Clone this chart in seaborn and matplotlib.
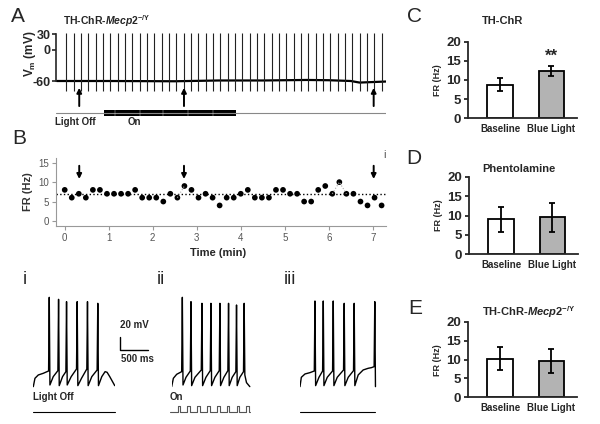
import matplotlib
matplotlib.use("Agg")
import matplotlib.pyplot as plt
import seaborn as sns

# ==============================
# Data
# ==============================

# Panel A: long recording, spike times (min) and slow baseline (min, mV)
spike_times = [0.03, 0.20, 0.36, 0.53, 0.70, 0.86, 1.03, 1.20, 1.36, 1.53, 1.70,
               1.86, 2.03, 2.20, 2.36, 2.53, 2.70, 2.86, 3.03, 3.20, 3.36, 3.53,
               3.70, 3.86, 4.03, 4.20, 4.36, 4.53, 4.70, 4.86, 5.03, 5.20, 5.36,
               5.53, 5.70, 5.86, 6.03, 6.20, 6.36, 6.53, 6.70, 6.86, 7.03, 7.20]
spike_top = 32
spike_bottom = -80
base_t = [-0.18, 1.0, 2.5, 3.5, 4.5, 5.5, 6.0, 6.5, 6.7, 7.0, 7.3]
base_v = [-60, -60, -60.5, -59, -59, -58, -58.5, -60, -63, -62, -61]
arrow_times = [0.33, 2.71, 7.02]
light_on = [0.9, 3.9]
light_marks = [1.15, 1.71, 2.24, 2.81, 3.37]

# Panel B: firing rate per bin
fr_time = [0.00, 0.16, 0.32, 0.48, 0.64, 0.80, 0.96, 1.12, 1.28, 1.44, 1.60, 1.76,
           1.92, 2.08, 2.24, 2.40, 2.56, 2.72, 2.88, 3.04, 3.20, 3.36, 3.52, 3.68,
           3.84, 4.00, 4.16, 4.32, 4.48, 4.64, 4.80, 4.96, 5.12, 5.28, 5.44, 5.60,
           5.76, 5.92, 6.08, 6.24, 6.40, 6.56, 6.72, 6.88, 7.04, 7.20]
fr_hz = [8, 6, 7, 6, 8, 8, 7, 7, 7, 7, 8, 6, 6, 6, 5, 7, 6, 9, 8, 6, 7, 6, 4,
         6, 6, 7, 8, 6, 6, 6, 8, 8, 7, 7, 5, 5, 8, 9, 7, 10, 7, 7, 5, 4, 6, 4]
fr_mean = 7.0
grey_links = [[16, 17], [38, 39, 40]]

# Panels C-E: mean +/- SEM
bar_labels = ['Baseline', 'Blue Light']
c_mean = [8.8, 12.3]
c_err = [1.8, 1.35]
d_mean = [9.0, 9.5]
d_err = [3.15, 3.75]
e_mean = [10.3, 9.6]
e_err = [2.95, 3.1]

# Bottom row example traces (ms, mV)
ti_ms = [0, 30, 90, 180, 276, 288, 300, 360, 444, 456, 468, 528, 588, 600, 612, 684,
         780, 792, 804, 870, 966, 978, 990, 1056, 1152, 1164, 1176, 1236, 1296, 1332,
         1380, 1470]
ti_mv = [-80, -67.5, -62.5, -60, -56.5, 54, -77.5, -65, -56, 51, -78.5, -65, -57.5,
         47.5, -77.5, -65, -53.5, 47.5, -78.5, -67.5, -53.5, 47.5, -78.5, -65, -55,
         45, -78.5, -65, -57.5, -58.5, -65, -78.5]
tii_ms = [0, 30, 90, 180, 192, 204, 258, 336, 348, 360, 420, 534, 546, 558, 618, 696,
          708, 720, 780, 858, 870, 882, 942, 1014, 1026, 1038, 1092, 1158, 1170, 1182,
          1230, 1296, 1308, 1320, 1350, 1410]
tii_mv = [-80, -67.5, -61.5, -57.5, 54, -77.5, -66, -56.5, 47.5, -78.5, -66, -55, 45,
          -78.5, -66, -56, 45, -78.5, -66, -56, 45, -78.5, -66, -56, 45, -78.5, -66,
          -57.5, 42.5, -78.5, -66, -57.5, 45, -62.5, -74, -80]
tiii_ms = [0, 24, 90, 180, 258, 270, 282, 342, 408, 420, 432, 492, 588, 600, 612, 672,
           786, 798, 810, 870, 966, 978, 990, 1050, 1140, 1230, 1290, 1338, 1350, 1362]
tiii_mv = [-80, -66, -61, -59, -56.5, 48.5, -78.5, -66, -56.5, 48.5, -78.5, -66, -56.5,
           48.5, -78.5, -66, -55, 45, -78.5, -66, -56, 45, -78.5, -62.5, -55, -52.5,
           -51.5, -50, 47.5, -80]
stim_spans = [[0, 1470], [-30, 1410], [0, 1362]]
pulse_starts = [108, 282, 462, 636, 816, 990, 1170, 1338]
pulse_width = 50
scale_mv = 20
scale_ms = 500

# ==============================
# Style
# ==============================
sns.set_style("ticks")
plt.rcParams['font.family'] = ['Liberation Sans', 'DejaVu Sans']
plt.rcParams['axes.unicode_minus'] = False
plt.rcParams['mathtext.fontset'] = 'custom'
plt.rcParams['mathtext.rm'] = 'Liberation Sans:bold'
plt.rcParams['mathtext.it'] = 'Liberation Sans:italic:bold'
plt.rcParams['mathtext.bf'] = 'Liberation Sans:bold'

W, H = 600, 424
fig = plt.figure(figsize=(6, 4.24), dpi=100)


def box(x0, y0, x1, y1):
    return [x0 / W, 1 - y1 / H, (x1 - x0) / W, (y1 - y0) / H]


def ftext(x, y, s, **kw):
    kw.setdefault('ha', 'center')
    kw.setdefault('va', 'center')
    fig.text(x / W, 1 - y / H, s, **kw)


# =====================================
# Panel A
# =====================================
axA = fig.add_axes(box(56, 28, 386, 108))
sns.lineplot(x=base_t, y=base_v, color='black', lw=1.6, ax=axA)
axA.vlines(spike_times, spike_bottom, spike_top, color='#222222', lw=0.8)
axA.set_xlim(-0.198, 7.30)
axA.set_ylim(-111.7, 41.5)
for s in ['top', 'right', 'bottom']:
    axA.spines[s].set_visible(False)
axA.spines['left'].set_bounds(-60, 30)
axA.spines['left'].set_linewidth(1.2)
axA.set_xticks([])
axA.set_yticks([30, 0, -60])
axA.tick_params(axis='y', length=3, width=1.2, pad=1, labelsize=9)
for lab in axA.get_yticklabels():
    lab.set_fontweight('bold')
axA.set_ylabel(r'V$_{\mathrm{m}}$ (mV)', fontsize=8.5, fontweight='bold')
axA.yaxis.set_label_coords(-0.055, 0.68)
for t in arrow_times:
    axA.annotate('', xy=(t, -73), xytext=(t, -108),
                 arrowprops=dict(arrowstyle='-|>', color='black', lw=1.4,
                                 mutation_scale=7, shrinkA=0, shrinkB=0))

# light stimulus bar
axL = fig.add_axes(box(56, 106, 386, 120))
axL.plot([-0.2, 7.3], [0, 0], color='#888888', lw=0.8)
axL.fill_between(light_on, -0.36, 0.36, color='black', lw=0)
axL.vlines(light_marks, -0.36, 0.36, color='#dddddd', lw=0.3)
axL.set_xlim(-0.198, 7.30)
axL.set_ylim(-1, 1)
axL.axis('off')

ftext(18, 17, 'A', fontsize=15)
ftext(63, 21, r'TH-ChR-$\mathit{Mecp2}^{\mathrm{-/Y}}$', fontsize=7.5,
      fontweight='bold', ha='left')
ftext(55, 122, 'Light Off', fontsize=7, fontweight='bold', ha='left')
ftext(128, 122, 'On', fontsize=7, fontweight='bold', ha='left')

# =====================================
# Panel B
# =====================================
axB = fig.add_axes(box(56, 158, 386, 226))
axB.axhline(fr_mean, color='black', ls=':', lw=1.0)
for link in grey_links:
    axB.plot([fr_time[i] for i in link], [fr_hz[i] for i in link],
             color='#aaaaaa', ls=':', lw=0.8)
sns.scatterplot(x=fr_time, y=fr_hz, color='black', s=17, edgecolor='none', ax=axB)
for t in arrow_times:
    axB.annotate('', xy=(t, 10.8), xytext=(t, 14.2),
                 arrowprops=dict(arrowstyle='-|>', color='black', lw=1.4,
                                 mutation_scale=7, shrinkA=0, shrinkB=0))
axB.set_xlim(-0.198, 7.30)
axB.set_ylim(-1.29, 16.2)
axB.set_xticks(range(8))
axB.set_yticks([0, 5, 10, 15])
for s in ['top', 'right']:
    axB.spines[s].set_visible(False)
for s in ['left', 'bottom']:
    axB.spines[s].set_color('#999999')
    axB.spines[s].set_linewidth(0.8)
axB.tick_params(length=3, width=0.8, color='#999999', labelcolor='#555555',
                labelsize=7, pad=2)
axB.set_ylabel('FR (Hz)', fontsize=8, fontweight='bold', color='#333333', labelpad=4)
ftext(19, 138, 'B', fontsize=15)
ftext(384, 155, 'i', fontsize=8, color='#555555')
ftext(218, 253, 'Time (min)', fontsize=8, fontweight='bold')

# =====================================
# Panels C, D, E
# =====================================
bar_panels = [
    ('C', 'TH-ChR', c_mean, c_err, (468, 41.7, 577, 118.3), (415, 17), 21, True),
    ('D', 'Phentolamine', d_mean, d_err, (469, 176.7, 578, 254.3), (414, 159), 169, False),
    ('E', r'TH-ChR-$\mathit{Mecp2}^{\mathrm{-/Y}}$', e_mean, e_err,
     (468, 322, 577, 397.3), (415, 309), 312, False),
]
for letter, title, means, errs, pos, lpos, ty, star in bar_panels:
    ax = fig.add_axes(box(*pos))
    sns.barplot(x=bar_labels, y=means, hue=bar_labels, palette=['white', '#b3b3b3'],
                legend=False, width=0.5, edgecolor='black', linewidth=1.3, ax=ax)
    ax.errorbar([0, 1], means, yerr=errs, fmt='none', ecolor='black',
                elinewidth=1.3, capsize=2.5, capthick=1.3)
    ax.set_xlim(-0.63, 1.5)
    ax.set_ylim(0, 20)
    ax.set_yticks([0, 5, 10, 15, 20])
    for s in ['top', 'right']:
        ax.spines[s].set_visible(False)
    for s in ['left', 'bottom']:
        ax.spines[s].set_linewidth(1.3)
    ax.tick_params(axis='y', length=3, width=1.3, labelsize=9.5, pad=2)
    ax.tick_params(axis='x', length=0, labelsize=7, pad=4)
    for lab in ax.get_yticklabels() + ax.get_xticklabels():
        lab.set_fontweight('bold')
    ax.set_ylabel('FR (Hz)', fontsize=6.5, fontweight='bold', labelpad=3)
    if star:
        ax.text(1, 14.3, '**', ha='center', va='bottom', fontsize=12, fontweight='bold')
    ftext(lpos[0], lpos[1], letter, fontsize=15)
    ftext(482, ty, title, fontsize=8, fontweight='bold', ha='left')

# =====================================
# Bottom row example traces
# =====================================
traces = [(ti_ms, ti_mv, 33.3), (tii_ms, tii_mv, 171.7), (tiii_ms, tiii_mv, 300)]
trace_axes = []
for k, (tms, tmv, x0) in enumerate(traces):
    ax = fig.add_axes(box(x0, 295, x0 + 82, 388.3))
    sns.lineplot(x=tms, y=tmv, sort=False, estimator=None, color='black', lw=1.0, ax=ax)
    ax.set_xlim(0, 1480)
    ax.set_ylim(-82.5, 57.5)
    ax.axis('off')
    trace_axes.append(ax)

    axs = fig.add_axes(box(x0, 402, x0 + 82, 414))
    span = stim_spans[k]
    if k == 1:
        px = [span[0]]
        py = [0]
        for p in pulse_starts:
            px += [p, p, p + pulse_width, p + pulse_width]
            py += [0, 1, 1, 0]
        px.append(span[1])
        py.append(0)
        axs.plot(px, py, color='#555555', lw=0.8, clip_on=False)
    else:
        axs.plot(span, [0, 0], color='black', lw=0.8, clip_on=False)
    axs.set_xlim(0, 1480)
    axs.set_ylim(-0.38, 1.62)
    axs.axis('off')

# scale bar next to trace i
ax = trace_axes[0]
sx, sy = 1565, -25
ax.plot([sx, sx, sx + scale_ms], [sy + scale_mv, sy, sy], color='black', lw=1.0,
        clip_on=False)
ax.text(sx, 12.5, f'{scale_mv} mV', fontsize=7, fontweight='bold', ha='left', va='center')
ax.text(sx + 15, -38.5, f'{scale_ms} ms', fontsize=7, fontweight='bold', ha='left',
        va='center')

ftext(25, 279, 'i', fontsize=13)
ftext(161, 279, 'ii', fontsize=13)
ftext(290, 279, 'iii', fontsize=13)
ftext(33, 397, 'Light Off', fontsize=7, fontweight='bold', ha='left')
ftext(170, 397, 'On', fontsize=7, fontweight='bold', ha='left')

fig.savefig('out.png', dpi=100)
